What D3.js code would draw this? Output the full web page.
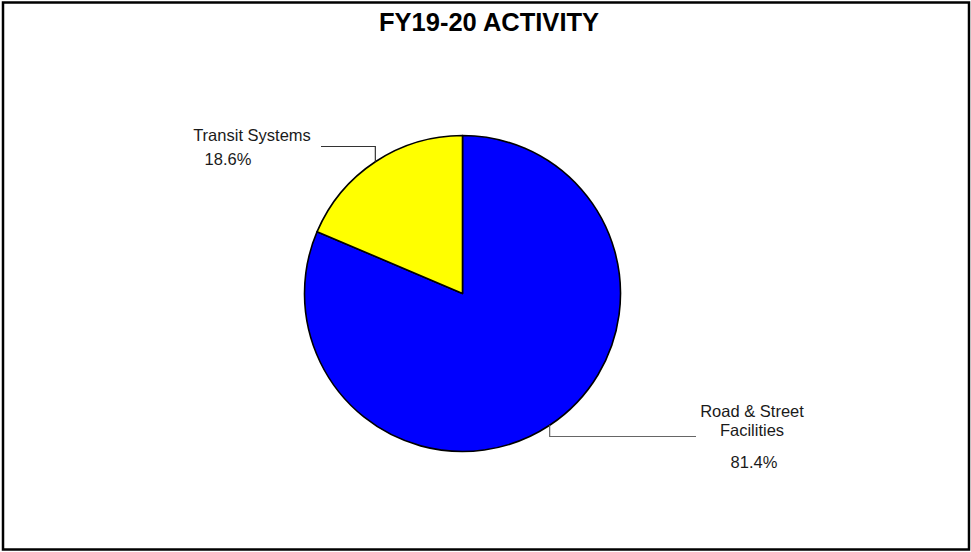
<!DOCTYPE html>
<html>
<head>
<meta charset="utf-8" />
<title>FY19-20 Activity</title>
<script src="https://cdn.jsdelivr.net/npm/d3@7/dist/d3.min.js"></script>
<style>
  body { margin: 0; background: #fff; }
  text { font-family: Arial, "Liberation Sans", sans-serif; fill: #1a1a1a; }
</style>
</head>
<body>
<div id="chart"></div>
<script>
// chart values
const categories = ["Road & Street Facilities", "Transit Systems"];
const shares = [81.4, 18.6];
const pctLabels = ["81.4%", "18.6%"];
const colors = ["#0000ff", "#ffff00"];

const width = 971, height = 552;
const cx = 462.5, cy = 293.5, radius = 158;

const svg = d3.select("#chart").append("svg")
  .attr("width", width)
  .attr("height", height);

// outer frame
svg.append("rect")
  .attr("x", 3).attr("y", 2.5)
  .attr("width", 966).attr("height", 547)
  .attr("fill", "#fff")
  .attr("stroke", "#000")
  .attr("stroke-width", 2.5);

svg.append("text")
  .attr("x", 489).attr("y", 31)
  .attr("text-anchor", "middle")
  .style("font-size", "25.5px")
  .style("font-weight", "bold")
  .style("fill", "#000")
  .text("FY19-20 ACTIVITY");

const data = categories.map((c, i) => ({name: c, value: shares[i], pct: pctLabels[i], color: colors[i]}));

const pie = d3.pie().sort(null).value(d => d.value);
const arc = d3.arc().innerRadius(0).outerRadius(radius);
const edge = d3.arc().innerRadius(radius).outerRadius(radius);

const g = svg.append("g").attr("transform", "translate(" + cx + "," + cy + ")");
const arcs = pie(data);

g.selectAll("path.slice")
  .data(arcs)
  .enter().append("path")
    .attr("class", "slice")
    .attr("d", arc)
    .attr("fill", d => d.data.color)
    .attr("stroke", "#000")
    .attr("stroke-width", 1.6)
    .attr("stroke-linejoin", "round");

// leader lines: vertical from slice edge, then horizontal toward label
const leaders = [
  {dy: 436.5 - cy, endX: 696 - cx, color: "#666"},   // road
  {dy: 146.5 - cy, endX: 321 - cx, color: "#333"}    // transit
];
arcs.forEach(function(a, i){
  const p = edge.centroid(a);
  const L = leaders[i];
  g.append("path")
    .attr("d", d3.line()([[p[0], p[1]], [p[0], L.dy], [L.endX, L.dy]]))
    .attr("fill", "none")
    .attr("stroke", L.color)
    .attr("stroke-width", 1.2);
});

// labels
const labelG = svg.append("g").style("font-size", "16.5px");
labelG.append("text").attr("x", 752).attr("y", 417).attr("text-anchor", "middle").text("Road & Street");
labelG.append("text").attr("x", 752).attr("y", 435.5).attr("text-anchor", "middle").text("Facilities");
labelG.append("text").attr("x", 754).attr("y", 467.5).attr("text-anchor", "middle").text(pctLabels[0]);

labelG.append("text").attr("x", 252).attr("y", 140.5).attr("text-anchor", "middle").text(categories[1]);
labelG.append("text").attr("x", 228).attr("y", 164.5).attr("text-anchor", "middle").text(pctLabels[1]);
</script>
</body>
</html>
